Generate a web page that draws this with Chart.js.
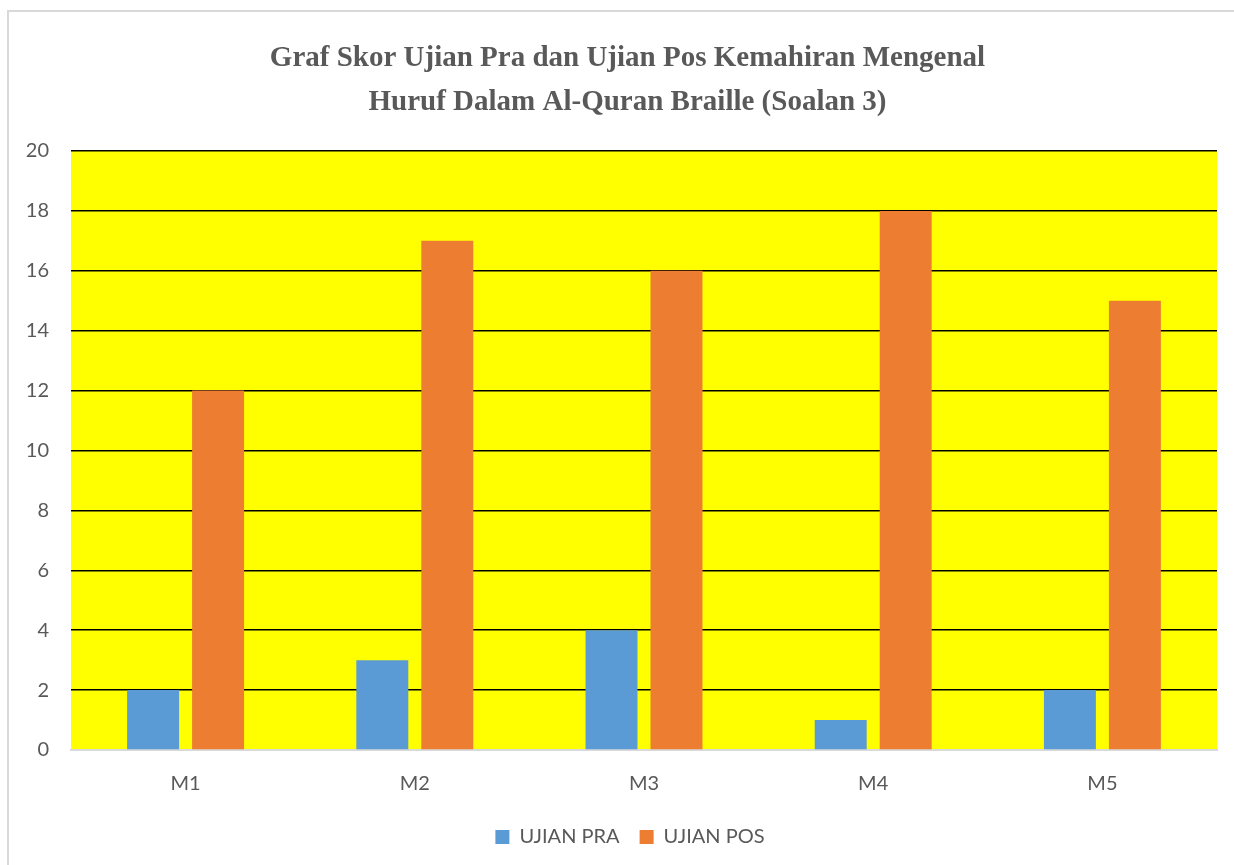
<!DOCTYPE html>
<html>
<head>
<meta charset="utf-8">
<script src="https://cdn.jsdelivr.net/npm/chart.js@4.4.0/dist/chart.umd.min.js"></script>
<style>
  html, body { margin: 0; padding: 0; background: #fff; }
  #wrap { width: 1234px; height: 865px; position: relative; }
</style>
</head>
<body>
<div id="wrap"><canvas id="c" width="1234" height="865"></canvas></div>
<script>
const categories = ["M1", "M2", "M3", "M4", "M5"];
const ujianPra = [2, 3, 4, 1, 2];
const ujianPos = [12, 17, 16, 18, 15];
const seriesNames = ["UJIAN PRA", "UJIAN POS"];
const titleLines = ["Graf Skor Ujian Pra dan Ujian Pos Kemahiran Mengenal", "Huruf Dalam Al-Quran Braille (Soalan 3)"];

const TEXT = "#595959";
const SANS = "Lato, 'Open Sans', sans-serif";

const bgPlugin = {
  id: "bg",
  afterLayout(chart) {
    // centre title and legend on the whole frame like the original
    if (chart.titleBlock) chart.titleBlock.left += 38;
    if (chart.legend) chart.legend.left += 43;
  },
  beforeDraw(chart) {
    const ctx = chart.ctx, a = chart.chartArea;
    ctx.save();
    ctx.fillStyle = "#fff";
    ctx.fillRect(0, 0, chart.width, chart.height);
    ctx.strokeStyle = "#D9D9D9";
    ctx.lineWidth = 2;
    ctx.beginPath();
    ctx.moveTo(8, chart.height);
    ctx.lineTo(8, 11);
    ctx.lineTo(chart.width, 11);
    ctx.stroke();
    ctx.fillStyle = "#FFFF00";
    ctx.fillRect(a.left, a.top, a.right - a.left, a.bottom - a.top);
    ctx.restore();
  }
};

new Chart(document.getElementById("c"), {
  type: "bar",
  data: {
    labels: categories,
    datasets: [
      { label: seriesNames[0], data: ujianPra, backgroundColor: "#5B9BD5" },
      { label: seriesNames[1], data: ujianPos, backgroundColor: "#ED7D31" }
    ]
  },
  options: {
    responsive: false,
    animation: false,
    devicePixelRatio: 1,
    layout: { padding: { top: 11, right: 17, bottom: 8, left: 0 } },
    datasets: { bar: { categoryPercentage: 0.567, barPercentage: 0.8 } },
    plugins: {
      title: {
        display: true,
        text: titleLines,
        color: TEXT,
        font: { family: "'Liberation Serif', 'Times New Roman', serif", weight: "bold", size: 29, lineHeight: 1.517 },
        padding: { top: 26, bottom: 26 }
      },
      legend: {
        position: "bottom",
        labels: {
          color: TEXT,
          font: { family: SANS, size: 20 },
          boxWidth: 14,
          boxHeight: 14,
          padding: 20
        }
      },
      tooltip: { enabled: false }
    },
    scales: {
      x: {
        grid: { display: false, drawTicks: false },
        border: { display: true, color: "#D9D9D9", width: 2 },
        ticks: { color: TEXT, font: { family: SANS, size: 20 }, padding: 22 },
        afterFit(s) { s.height = 57; }
      },
      y: {
        min: 0, max: 20,
        ticks: { stepSize: 2, color: TEXT, font: { family: SANS, size: 20 }, padding: 22 },
        grid: { color: "#000", lineWidth: 1.5, drawTicks: false },
        border: { display: false },
        afterFit(s) { s.width = 71; }
      }
    }
  },
  plugins: [bgPlugin]
});
</script>
</body>
</html>
